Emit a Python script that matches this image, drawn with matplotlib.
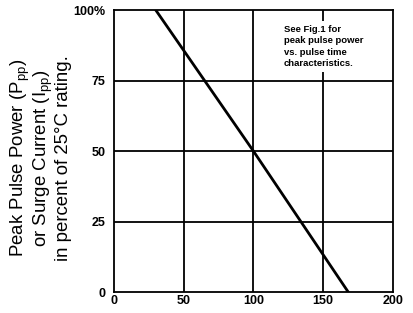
import matplotlib
matplotlib.use("Agg")
import matplotlib.pyplot as plt

# derating curve (temperature vs percent of 25C rating)
temp = [30, 100, 168]
rating = [100, 50, 0]

x_ticks = [0, 50, 100, 150, 200]
y_ticks = [0, 25, 50, 75, 100]
y_labels = ["0", "25", "50", "75", "100%"]

plt.rcParams['font.family'] = ['Liberation Sans', 'DejaVu Sans']
plt.rcParams['mathtext.default'] = 'regular'

fig = plt.figure(figsize=(4.14, 3.13), dpi=100)
ax = fig.add_axes([0.275, 0.067, 0.674, 0.901])

ax.set_xlim(0, 200)
ax.set_ylim(0, 100)

for x in x_ticks[1:-1]:
    ax.axvline(x, color='black', lw=1.3, zorder=1)
for y in y_ticks[1:-1]:
    ax.axhline(y, color='black', lw=1.3, zorder=1)

ax.plot(temp, rating, color='black', lw=2, zorder=3)

ax.text(122, 94.8, "See Fig.1 for\npeak pulse power\nvs. pulse time\ncharacteristics.",
        fontsize=6.8, fontweight='bold', va='top', ha='left', linespacing=1.35,
        bbox=dict(facecolor='white', edgecolor='none', pad=3), zorder=2)

ax.set_xticks(x_ticks)
ax.set_yticks(y_ticks)
ax.set_yticklabels(y_labels)
ax.tick_params(length=0, labelsize=9)
ax.tick_params(axis='x', pad=2)
ax.tick_params(axis='y', pad=6)
for lbl in ax.get_xticklabels() + ax.get_yticklabels():
    lbl.set_fontweight('bold')

for s in ax.spines.values():
    s.set_linewidth(1.3)
    s.set_color('black')

fig.text(0.097, 0.495,
         "Peak Pulse Power (P$_{pp}$)\nor Surge Current (I$_{pp}$)\nin percent of 25\u00b0C rating.",
         rotation=90, ha='center', va='center', fontsize=13.4, linespacing=1.0)

fig.savefig("out.png", dpi=100)
